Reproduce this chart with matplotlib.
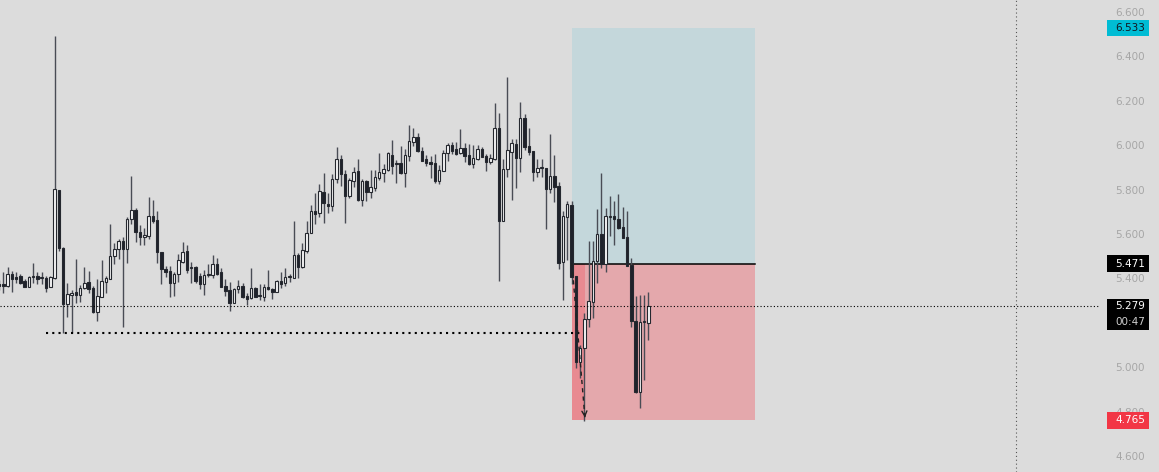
import matplotlib
matplotlib.use('Agg')
import matplotlib.pyplot as plt
import matplotlib.transforms as mtransforms
from matplotlib.patches import Rectangle
import numpy as np

# OHLC, oldest bar first
opens = [
    5.379, 5.379, 5.370, 5.424, 5.411, 5.415, 5.393, 5.366, 5.413, 5.415,
    5.406, 5.406, 5.366, 5.406, 5.803, 5.542, 5.289, 5.330, 5.343, 5.330,
    5.361, 5.388, 5.361, 5.253, 5.321, 5.388, 5.402, 5.506, 5.537, 5.573,
    5.537, 5.672, 5.713, 5.614, 5.591, 5.596, 5.686, 5.668, 5.524, 5.447,
    5.438, 5.384, 5.424, 5.479, 5.528, 5.451, 5.456, 5.415, 5.379, 5.420,
    5.420, 5.469, 5.433, 5.370, 5.352, 5.294, 5.357, 5.370, 5.325, 5.316,
    5.361, 5.325, 5.321, 5.366, 5.357, 5.343, 5.393, 5.384, 5.411, 5.406,
    5.510, 5.456, 5.528, 5.609, 5.708, 5.699, 5.794, 5.740, 5.731, 5.852,
    5.942, 5.875, 5.776, 5.843, 5.888, 5.758, 5.843, 5.794, 5.812, 5.857,
    5.879, 5.893, 5.960, 5.920, 5.924, 5.879, 5.956, 6.019, 6.042, 5.978,
    5.942, 5.929, 5.924, 5.843, 5.888, 5.969, 6.005, 5.987, 5.969, 5.992,
    5.960, 5.920, 5.942, 5.987, 5.956, 5.929, 5.942, 6.082, 5.663, 5.897,
    5.974, 6.010, 5.947, 6.127, 6.001, 5.978, 5.884, 5.902, 5.902, 5.807,
    5.866, 5.821, 5.479, 5.681, 5.735, 5.415, 5.028, 5.091, 5.222, 5.298,
    5.483, 5.605, 5.469, 5.681, 5.686, 5.672, 5.636, 5.591, 5.465, 5.213,
    4.893, 5.208, 5.204,
]
highs = [
    5.397, 5.433, 5.456, 5.438, 5.433, 5.424, 5.402, 5.415, 5.474, 5.433,
    5.433, 5.415, 5.415, 6.496, 5.803, 5.546, 5.384, 5.352, 5.492, 5.375,
    5.456, 5.438, 5.370, 5.402, 5.488, 5.415, 5.650, 5.564, 5.582, 5.591,
    5.681, 5.866, 5.722, 5.645, 5.632, 5.771, 5.758, 5.708, 5.524, 5.460,
    5.460, 5.433, 5.515, 5.569, 5.555, 5.479, 5.460, 5.429, 5.442, 5.469,
    5.510, 5.497, 5.451, 5.402, 5.388, 5.361, 5.397, 5.384, 5.339, 5.451,
    5.366, 5.379, 5.379, 5.442, 5.361, 5.397, 5.433, 5.451, 5.424, 5.663,
    5.519, 5.564, 5.663, 5.735, 5.789, 5.830, 5.879, 5.789, 5.875, 5.996,
    5.960, 5.893, 5.857, 5.906, 5.942, 5.852, 5.848, 5.893, 5.893, 5.969,
    5.920, 5.974, 6.028, 5.938, 6.001, 5.987, 6.096, 6.082, 6.060, 5.996,
    5.960, 5.956, 5.965, 5.915, 5.983, 6.015, 6.019, 6.019, 6.078, 6.015,
    6.010, 6.005, 6.005, 5.996, 5.965, 5.965, 6.195, 6.150, 5.942, 6.312,
    6.033, 6.033, 6.199, 6.145, 6.082, 5.978, 5.942, 5.942, 5.902, 6.055,
    5.960, 5.839, 5.708, 5.753, 5.753, 5.415, 5.105, 5.249, 5.573, 5.573,
    5.717, 5.879, 5.722, 5.776, 5.753, 5.785, 5.726, 5.708, 5.497, 5.325,
    5.330, 5.330, 5.343,
]
lows = [
    5.352, 5.339, 5.366, 5.343, 5.384, 5.379, 5.366, 5.366, 5.384, 5.379,
    5.379, 5.343, 5.366, 5.402, 5.528, 5.159, 5.231, 5.159, 5.294, 5.298,
    5.357, 5.339, 5.249, 5.213, 5.321, 5.339, 5.402, 5.469, 5.492, 5.186,
    5.474, 5.650, 5.569, 5.555, 5.555, 5.582, 5.654, 5.474, 5.379, 5.411,
    5.321, 5.325, 5.388, 5.474, 5.429, 5.384, 5.384, 5.357, 5.330, 5.411,
    5.406, 5.420, 5.366, 5.325, 5.258, 5.294, 5.339, 5.316, 5.285, 5.312,
    5.321, 5.307, 5.303, 5.352, 5.312, 5.343, 5.361, 5.370, 5.388, 5.406,
    5.406, 5.451, 5.519, 5.609, 5.650, 5.681, 5.654, 5.699, 5.708, 5.834,
    5.821, 5.654, 5.767, 5.816, 5.753, 5.731, 5.753, 5.767, 5.798, 5.848,
    5.839, 5.888, 5.875, 5.834, 5.875, 5.816, 5.933, 6.001, 5.974, 5.933,
    5.911, 5.857, 5.834, 5.830, 5.888, 5.933, 5.965, 5.960, 5.965, 5.929,
    5.915, 5.902, 5.938, 5.951, 5.888, 5.920, 5.938, 5.393, 5.663, 5.861,
    5.758, 5.812, 5.884, 5.983, 5.960, 5.843, 5.861, 5.861, 5.627, 5.789,
    5.749, 5.447, 5.307, 5.488, 5.379, 5.001, 4.956, 4.762, 5.186, 5.226,
    5.384, 5.451, 5.433, 5.596, 5.555, 5.627, 5.587, 5.460, 5.186, 4.888,
    4.821, 4.947, 5.127,
]
closes = [
    5.370, 5.370, 5.424, 5.402, 5.402, 5.384, 5.366, 5.411, 5.415, 5.402,
    5.406, 5.361, 5.411, 5.807, 5.542, 5.289, 5.334, 5.339, 5.330, 5.361,
    5.384, 5.357, 5.253, 5.325, 5.393, 5.406, 5.506, 5.537, 5.573, 5.537,
    5.672, 5.713, 5.614, 5.591, 5.600, 5.686, 5.663, 5.524, 5.447, 5.433,
    5.384, 5.424, 5.488, 5.524, 5.442, 5.451, 5.393, 5.379, 5.420, 5.420,
    5.469, 5.424, 5.366, 5.348, 5.294, 5.357, 5.370, 5.321, 5.312, 5.361,
    5.321, 5.325, 5.366, 5.357, 5.343, 5.393, 5.379, 5.411, 5.411, 5.510,
    5.456, 5.533, 5.609, 5.708, 5.695, 5.798, 5.744, 5.731, 5.852, 5.942,
    5.875, 5.776, 5.848, 5.884, 5.758, 5.843, 5.794, 5.816, 5.861, 5.884,
    5.897, 5.969, 5.911, 5.920, 5.879, 5.960, 6.024, 6.042, 5.978, 5.933,
    5.924, 5.920, 5.843, 5.893, 5.969, 6.005, 5.978, 5.965, 5.992, 5.956,
    5.920, 5.947, 5.987, 5.951, 5.929, 5.947, 6.082, 5.663, 5.897, 5.983,
    6.015, 5.947, 6.127, 5.996, 5.974, 5.884, 5.902, 5.902, 5.807, 5.866,
    5.816, 5.474, 5.686, 5.740, 5.411, 5.028, 5.091, 5.222, 5.303, 5.483,
    5.605, 5.469, 5.686, 5.681, 5.672, 5.632, 5.587, 5.460, 5.213, 4.893,
    5.208, 5.208, 5.279,
]

# long position tool (prices) and where it sits in bar units
entry_price = 5.471
target_price = 6.533
stop_price = 4.765
trade_start = 134.1
trade_hit = 137.2
trade_end = 177.0

# horizontal level drawn under the lows
level_price = 5.159
level_start = 10.9
level_end = 136.2

last_price = 5.279
countdown = "00:47"
cursor_bar = 238.1

y_ticks = [4.6, 4.8, 5.0, 5.2, 5.4, 5.6, 5.8, 6.0, 6.2, 6.4, 6.6]

BG = '#dcdcdc'
WICK = '#494c55'
EDGE = '#25282f'
DARK = '#1f222b'
LIGHT = '#f6f6f6'

fig = plt.figure(figsize=(11.59, 4.72), dpi=100)
fig.patch.set_facecolor(BG)
ax = fig.add_axes([0, 0, 1100 / 1159, 1])
ax.set_facecolor(BG)
for s in ax.spines.values():
    s.set_visible(False)
ax.set_xticks([])
ax.set_yticks([])
ax.set_xlim(0.234, 257.7)
ax.set_ylim(4.5324, 6.6586)

# position tool boxes
ax.add_patch(Rectangle((trade_start, entry_price), trade_end - trade_start,
                       target_price - entry_price, facecolor='#c4d7db',
                       edgecolor='none', zorder=1))
ax.add_patch(Rectangle((trade_start, stop_price), trade_end - trade_start,
                       entry_price - stop_price, facecolor='#e4a8ac',
                       edgecolor='none', zorder=1))
ax.add_patch(Rectangle((trade_start, stop_price), trade_hit - trade_start,
                       entry_price - stop_price, facecolor='#e88a91',
                       edgecolor='none', zorder=1.1))
ax.plot([trade_start, trade_end], [entry_price, entry_price], color='black',
        lw=1.1, zorder=2)

# candles
x = np.arange(len(closes))
o = np.array(opens)
c = np.array(closes)
ax.vlines(x, lows, highs, colors=WICK, lw=1.0, zorder=3)
w = 0.58
for i in range(len(x)):
    up = c[i] >= o[i]
    bottom = min(o[i], c[i])
    height = max(abs(c[i] - o[i]), 0.003)
    ax.add_patch(Rectangle((x[i] - w / 2, bottom), w, height,
                           facecolor=LIGHT if up else DARK,
                           edgecolor=EDGE, lw=0.8, zorder=4))

# level line and last price line
ax.plot([level_start, level_end], [level_price, level_price], color='black',
        lw=1.5, dashes=(1, 2), zorder=5)
ax.axhline(last_price, color='black', lw=0.8, dashes=(1, 2), zorder=5)
ax.axvline(cursor_bar, color='#555555', lw=0.8, dashes=(1, 2.5), zorder=5)

# trade path arrow
ax.plot([trade_start, trade_hit], [entry_price, stop_price], color='#222222',
        lw=1.0, dashes=(3, 3), zorder=6)
ax.annotate('', xy=(trade_hit, stop_price),
            xytext=(trade_hit - 0.15, stop_price + 0.035),
            arrowprops=dict(arrowstyle='->', color='#222222', lw=1.0,
                            mutation_scale=9), zorder=6)

# price scale
tr = mtransforms.blended_transform_factory(fig.transFigure, ax.transData)
label_x = 1145 / 1159
box_x = 1107 / 1159
box_w = 42 / 1159
for t in y_ticks:
    ax.text(label_x, t, f'{t:.3f}', transform=tr, ha='right', va='center',
            fontsize=7.5, color='#a6a6a6', clip_on=False, zorder=7)

box_h = 0.075


def price_box(price, face, text_color):
    ax.add_patch(Rectangle((box_x, price - box_h / 2), box_w, box_h,
                           transform=tr, facecolor=face, edgecolor='none',
                           clip_on=False, zorder=8))
    ax.text(label_x, price, f'{price:.3f}', transform=tr, ha='right',
            va='center', fontsize=7.5, color=text_color, clip_on=False,
            zorder=9)


price_box(target_price, '#00bcd4', '#131722')
price_box(entry_price, '#000000', 'white')
price_box(stop_price, '#f23645', 'white')

# last price with countdown
ax.add_patch(Rectangle((box_x, 5.172), box_w, 5.310 - 5.172, transform=tr,
                       facecolor='#000000', edgecolor='none', clip_on=False,
                       zorder=8))
ax.text(label_x, last_price, f'{last_price:.3f}', transform=tr, ha='right',
        va='center', fontsize=7.5, color='white', clip_on=False, zorder=9)
ax.text(label_x, 5.208, countdown, transform=tr, ha='right', va='center',
        fontsize=7.5, color='#d0d0d0', clip_on=False, zorder=9)

fig.savefig('out.png', dpi=100, facecolor=BG)
